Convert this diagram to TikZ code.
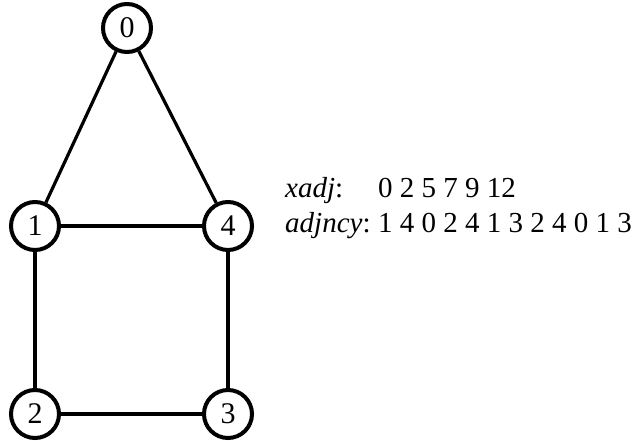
\documentclass[tikz,border=0pt]{standalone}
\usepackage{fontspec}
\setmainfont{Liberation Serif}
\begin{document}
\begin{tikzpicture}[x=1bp,y=-1bp,
  vtx/.style={circle,draw,line width=4bp,minimum size=48bp,inner sep=0pt,font=\fontsize{30bp}{34bp}\selectfont},
  edge/.style={line width=3.2bp},
  lbl/.style={inner sep=0pt,anchor=base west,font=\fontsize{29bp}{34bp}\selectfont}]
\useasboundingbox (0,0) rectangle (637,441);
\node[vtx] (n0) at (127,28) {0};
\node[vtx] (n1) at (35,226) {1};
\node[vtx] (n4) at (228,226) {4};
\node[vtx] (n2) at (35,414) {2};
\node[vtx] (n3) at (228,414) {3};
\draw[edge] (n0) -- (n1);
\draw[edge] (n0) -- (n4);
\draw[edge] (n1) -- (n4);
\draw[edge] (n1) -- (n2);
\draw[edge] (n4) -- (n3);
\draw[edge] (n2) -- (n3);
\node[lbl] (xl) at (285,198) {\textit{xadj}:};
\node[lbl] (al) at (285,233) {\textit{adjncy}:};
\node[lbl] (xv) at (al.base east) [yshift=35bp] {\hspace{0.25em}0 2 5 7 9 12};
\node[lbl] (av) at (al.base east) {\hspace{0.25em}1 4 0 2 4 1 3 2 4 0 1 3};
\end{tikzpicture}
\end{document}
